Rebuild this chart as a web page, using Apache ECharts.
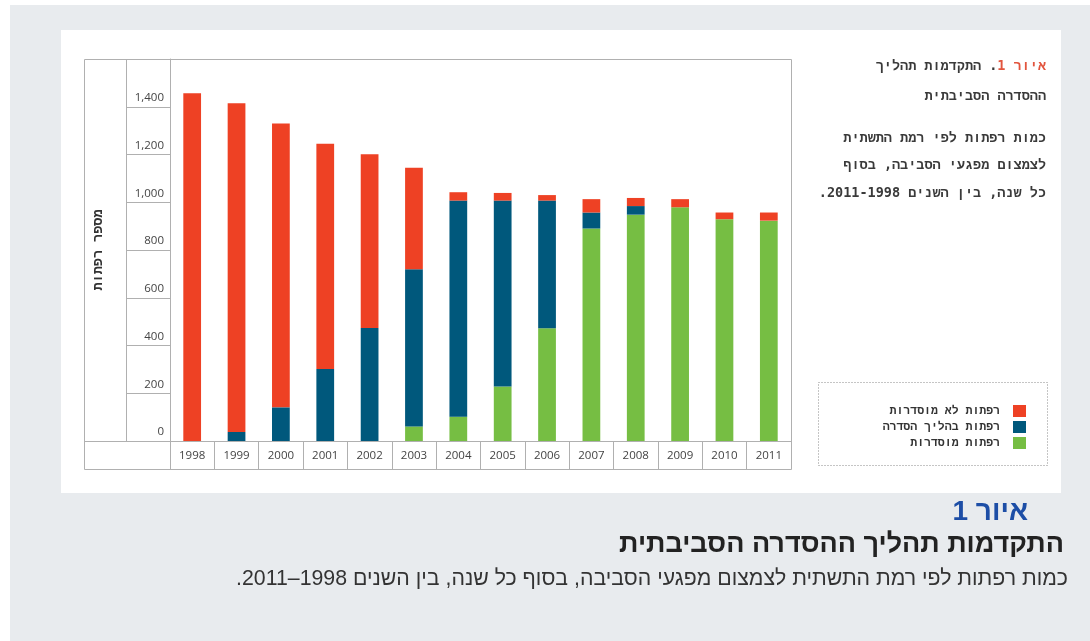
<!DOCTYPE html>
<html><head><meta charset="utf-8">
<script src="https://cdn.jsdelivr.net/npm/echarts@6/dist/echarts.min.js"></script>
<style>html,body{margin:0;padding:0;background:#e8ebee;} #chart{width:1090px;height:641px;}</style>
</head><body>
<div id="chart" dir="rtl"></div>
<script>
// ---- data ----
const years = ['1998','1999','2000','2001','2002','2003','2004','2005','2006','2007','2008','2009','2010','2011'];
const settled   = [0, 0, 0, 0, 0, 61, 102, 228, 472, 890, 948, 979, 929, 923];   // רפתות מוסדרות
const inProcess = [0, 38, 141, 302, 473, 658, 905, 779, 535, 67, 36, 0, 0, 0];   // רפתות בהליך הסדרה
const unsettled = [1457, 1377, 1189, 943, 728, 425, 35, 32, 23, 56, 34, 34, 28, 34]; // רפתות לא מוסדרות
const seriesNames = ['רפתות לא מוסדרות', 'רפתות בהליך הסדרה', 'רפתות מוסדרות'];
const yAxisTitle = 'מספר רפתות';
const sideTitle1 = 'איור 1';
const sideTitle1b = 'התקדמות תהליך';
const sideTitle2 = 'ההסדרה הסביבתית';
const sideText = ['כמות רפתות לפי רמת התשתית', 'לצמצום מפגעי הסביבה, בסוף', 'כל שנה, בין השנים 2011-1998.'];
const capLabel = 'איור 1';
const capTitle = 'התקדמות תהליך ההסדרה הסביבתית';
const capText = 'כמות רפתות לפי רמת התשתית לצמצום מפגעי הסביבה, בסוף כל שנה, בין השנים 1998–2011.';

// ---- layout ----
const W = 1090, H = 641;
const G = {left: 170, right: 791, top: 59, bottom: 441};
const frameLeft = 84, frameBottom = 469, labelCol = 126;
const lineCol = '#b0b0b0';
const colors = {red: '#ee4124', blue: '#00587c', green: '#76be43'};
const mono = '"DejaVu Sans Mono", "Liberation Mono", monospace';
const capFont = '"Liberation Sans Narrow", "Liberation Sans", sans-serif';
const sideX = 1046;
const sideFont = 'bold 13.5px ' + mono;

const chart = echarts.init(document.getElementById('chart'), null, {renderer: 'canvas'});

const graphic = [
  {type: 'rect', z: -20, shape: {x: 0, y: 0, width: W, height: 5}, style: {fill: '#ffffff'}},
  {type: 'rect', z: -20, shape: {x: 0, y: 0, width: 10, height: H}, style: {fill: '#ffffff'}},
  {type: 'rect', z: -20, shape: {x: 61, y: 30, width: 1000, height: 463}, style: {fill: '#ffffff'}},
  // frame
  {type: 'rect', z: -5, shape: {x: frameLeft + 0.5, y: G.top + 0.5, width: G.right - frameLeft, height: frameBottom - G.top}, style: {fill: 'none', stroke: lineCol, lineWidth: 1}},
  {type: 'line', z: -5, shape: {x1: labelCol + 0.5, y1: G.top, x2: labelCol + 0.5, y2: G.bottom}, style: {stroke: lineCol, lineWidth: 1}},
  {type: 'line', z: -5, shape: {x1: frameLeft, y1: G.bottom + 0.5, x2: G.left, y2: G.bottom + 0.5}, style: {stroke: lineCol, lineWidth: 1}},
  // legend box
  {type: 'rect', z: -5, shape: {x: 818.5, y: 382.5, width: 229, height: 83}, style: {fill: 'none', stroke: '#8a8a8a', lineWidth: 1, lineDash: [1, 2]}},
  // side title
  {type: 'text', x: sideX, y: 66, style: {
    text: '{d|' + sideTitle1b + '}{d|. }{r|' + sideTitle1 + '}',
    textAlign: 'right', textVerticalAlign: 'middle',
    rich: {d: {font: sideFont, fill: '#3a3a3a'}, r: {font: sideFont, fill: '#e2553e'}}
  }},
  {type: 'text', x: sideX, y: 96, style: {text: sideTitle2, textAlign: 'right', textVerticalAlign: 'middle', font: sideFont, fill: '#3a3a3a'}},
  ...sideText.map((t, i) => ({type: 'text', x: sideX, y: 138 + i * 27.5, style: {text: t, textAlign: 'right', textVerticalAlign: 'middle', font: sideFont, fill: '#3a3a3a'}})),
  // caption
  {type: 'text', x: 1028, y: 512, style: {text: capLabel, textAlign: 'right', textVerticalAlign: 'middle', font: 'bold 28px ' + capFont, fill: '#1d4ea6'}},
  {type: 'text', x: 1064, y: 545, style: {text: capTitle, textAlign: 'right', textVerticalAlign: 'middle', font: 'bold 27px ' + capFont, fill: '#222222'}},
  {type: 'text', x: 1068, y: 579, style: {text: capText, textAlign: 'right', textVerticalAlign: 'middle', font: '21.3px ' + capFont, fill: '#333333'}}
];

const barCommon = {type: 'bar', stack: 'total', barWidth: '40%', emphasis: {disabled: true}};

chart.setOption({
  backgroundColor: '#e8ebee',
  animation: false,
  graphic: graphic,
  grid: {left: G.left, top: G.top, width: G.right - G.left, height: G.bottom - G.top, containLabel: false},
  legend: {
    data: seriesNames,
    orient: 'vertical', align: 'right',
    right: 59, top: 400,
    itemWidth: 13, itemHeight: 12, itemGap: 4,
    icon: 'rect',
    textStyle: {fontFamily: mono, fontSize: 11.5, fontWeight: 'bold', color: '#333', padding: [0, 8, 0, 0]},
    selectedMode: false
  },
  xAxis: {
    type: 'category', data: years,
    axisLine: {lineStyle: {color: lineCol}},
    axisTick: {show: true, length: 28, lineStyle: {color: lineCol}},
    axisLabel: {interval: 0, margin: 9, color: '#444', fontFamily: '"Open Sans", sans-serif', fontSize: 11.5},
    splitLine: {show: false}
  },
  yAxis: {
    type: 'value', min: 0, max: 1600, interval: 200,
    name: yAxisTitle, nameLocation: 'middle', nameGap: 65,
    nameTextStyle: {fontFamily: mono, fontSize: 13.5, fontWeight: 'bold', color: '#333'},
    axisLine: {show: true, lineStyle: {color: lineCol}},
    axisTick: {show: true, length: 44, lineStyle: {color: lineCol}},
    axisLabel: {margin: 6, verticalAlign: 'bottom', padding: [0, 0, 3, 0], color: '#444', fontFamily: '"Open Sans", sans-serif', fontSize: 11.5,
      formatter: v => v >= 1600 ? '' : v.toLocaleString('en-US')},
    splitLine: {show: false}
  },
  series: [
    Object.assign({}, barCommon, {name: seriesNames[2], data: settled, itemStyle: {color: colors.green}}),
    Object.assign({}, barCommon, {name: seriesNames[1], data: inProcess, itemStyle: {color: colors.blue}}),
    Object.assign({}, barCommon, {name: seriesNames[0], data: unsettled, itemStyle: {color: colors.red}})
  ]
});
</script>
</body></html>
